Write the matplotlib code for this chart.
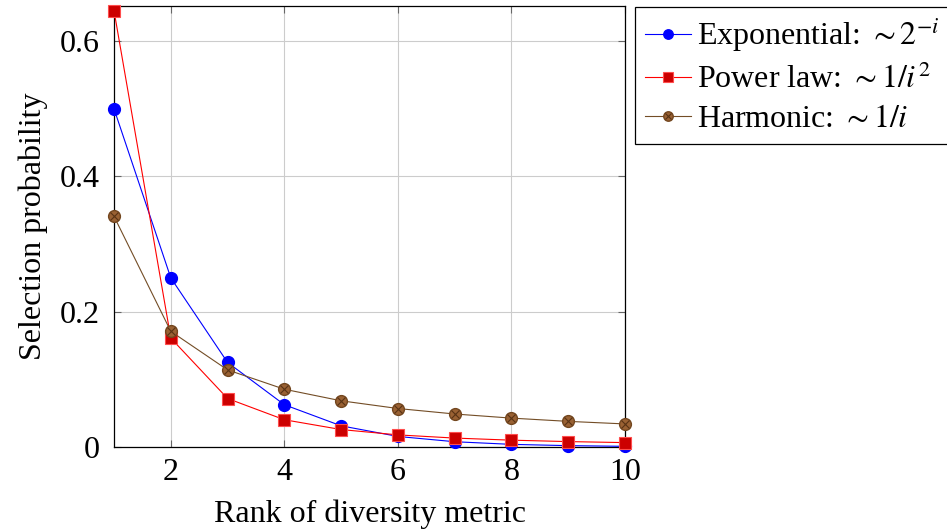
import matplotlib
matplotlib.use("Agg")
import matplotlib.pyplot as plt
from matplotlib.legend_handler import HandlerTuple

plt.rcParams['font.family'] = ['Liberation Serif', 'DejaVu Serif']
plt.rcParams['mathtext.fontset'] = 'stix'

rank = [1, 2, 3, 4, 5, 6, 7, 8, 9, 10]
exponential = [0.5, 0.25, 0.125, 0.0625, 0.0313, 0.0156, 0.0078, 0.0039, 0.002, 0.001]
power_law = [0.645, 0.161, 0.0717, 0.0403, 0.0258, 0.0179, 0.0132, 0.0101, 0.008, 0.0065]
harmonic = [0.341, 0.171, 0.114, 0.0854, 0.0683, 0.0569, 0.0488, 0.0427, 0.0379, 0.0341]

fs = 23
fig = plt.figure(figsize=(9.47, 5.3), dpi=100)
ax = fig.add_axes([0.1204, 0.1566, 0.66 - 0.1204, 0.9887 - 0.1566])

l1, = ax.plot(rank, exponential, color='blue', lw=0.8, marker='o', ms=8.5,
              mfc='blue', mec='blue', clip_on=False, zorder=3)
l2, = ax.plot(rank, power_law, color='red', lw=0.8, marker='s', ms=8.5,
              mfc=(0.8, 0, 0), mec=(1, 0.3, 0.3), mew=0.8, clip_on=False, zorder=3)
l3, = ax.plot(rank, harmonic, color=(0.45, 0.3, 0.15), lw=0.8, marker='o', ms=8.5,
              mfc=(0.6, 0.38, 0.2), mec=(0.45, 0.28, 0.12), clip_on=False, zorder=3)
l3x, = ax.plot(rank, harmonic, ls='none', marker='x', ms=5.5, mec=(0.35, 0.2, 0.08),
               mew=0.8, clip_on=False, zorder=4)

ax.set_xlim(1, 10)
ax.set_ylim(0, 0.652)
ax.set_xticks([2, 4, 6, 8, 10])
ax.set_yticks([0, 0.2, 0.4, 0.6])
ax.set_yticklabels(['0', '0.2', '0.4', '0.6'])
ax.grid(True, color=(0.8, 0.8, 0.8), lw=0.8)
ax.set_axisbelow(True)
ax.tick_params(direction='in', length=5, color=(0.4, 0.4, 0.4), labelsize=fs, pad=8,
               top=True, right=True)
ax.tick_params(axis='y', pad=10)
for s in ax.spines.values():
    s.set_linewidth(0.9)

ax.set_xlabel('Rank of diversity metric', fontsize=fs, labelpad=9)
ax.set_ylabel('Selection probability', fontsize=fs, labelpad=9)

leg = fig.legend([l1, l2, (l3, l3x)],
                 [r'Exponential: $\sim 2^{-i}$', r'Power law: $\sim 1/i^2$', r'Harmonic: $\sim 1/i$'],
                 handler_map={tuple: HandlerTuple(ndivide=1)},
                 loc='upper left', bbox_to_anchor=(635 / 947, 1 - 7 / 530),
                 fontsize=fs, fancybox=False, edgecolor='black', framealpha=1,
                 handlelength=1.45, handletextpad=0.2, borderpad=0.3, labelspacing=0.32,
                 borderaxespad=0, markerscale=0.8)
leg.get_frame().set_linewidth(0.9)

fig.savefig('out.png', dpi=100)
